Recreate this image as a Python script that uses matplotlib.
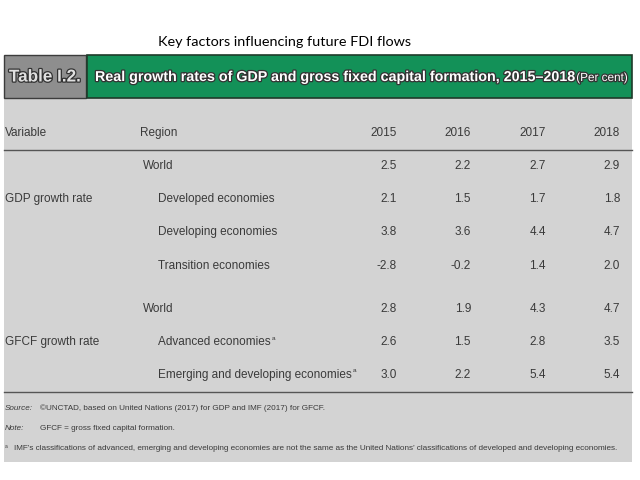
import matplotlib.pyplot as plt
from matplotlib.patches import Rectangle
import matplotlib.patheffects as pe

# table contents
years = ["2015", "2016", "2017", "2018"]
gdp_regions = ["World", "Developed economies", "Developing economies", "Transition economies"]
gdp_values = [
    [2.5, 2.2, 2.7, 2.9],
    [2.1, 1.5, 1.7, 1.8],
    [3.8, 3.6, 4.4, 4.7],
    [-2.8, -0.2, 1.4, 2.0],
]
gfcf_regions = ["World", "Advanced economies", "Emerging and developing economies"]
gfcf_values = [
    [2.8, 1.9, 4.3, 4.7],
    [2.6, 1.5, 2.8, 3.5],
    [3.0, 2.2, 5.4, 5.4],
]
source_txt = "\u00a9UNCTAD, based on United Nations (2017) for GDP and IMF (2017) for GFCF."
note_txt = "GFCF = gross fixed capital formation."
foot_txt = ("IMF\u2019s classifications of advanced, emerging and developing economies are not the same "
            "as the United Nations\u2019 classifications of developed and developing economies.")

FONT = ["Liberation Sans", "DejaVu Sans"]
TXT = "#3a3a3a"

fig = plt.figure(figsize=(6.4, 4.8), dpi=100)
ax = fig.add_axes([0, 0, 1, 1])
ax.set_xlim(0, 640)
ax.set_ylim(480, 0)
ax.axis("off")
renderer = fig.canvas.get_renderer()


def fit(t, width):
    # shrink/grow a text so it spans `width` pixels
    w = t.get_window_extent(renderer).width
    t.set_fontsize(t.get_fontsize() * width / w)
    return t.get_fontsize()


fig.text(285 / 640, 1 - 42 / 480, "Key factors influencing future FDI flows",
         ha="center", va="center", fontsize=10.4, family=["Lato", "DejaVu Sans"], color="black")

# panel + header band
ax.add_patch(Rectangle((4, 98), 628, 364, facecolor="#d3d3d3", edgecolor="none"))
ax.add_patch(Rectangle((4, 55), 82, 43, facecolor="#8e8e8e", edgecolor="#3c3c3c", lw=1))
ax.add_patch(Rectangle((87, 55), 545, 43, facecolor="#139158", edgecolor="#1f3b2a", lw=1.2))

shadow = [pe.withStroke(linewidth=1.8, foreground="#333333")]
t = ax.text(45, 77, "Table I.2.", ha="center", va="center", fontsize=14, fontweight="bold",
            color="#e0e0e0", family=FONT, path_effects=shadow)
fit(t, 72)
t = ax.text(95, 77, "Real growth rates of GDP and gross fixed capital formation, 2015\u20132018",
            ha="left", va="center", fontsize=12, fontweight="bold", color="white",
            family=FONT, path_effects=shadow)
fit(t, 478)
t = ax.text(628, 78, "(Per cent)", ha="right", va="center", fontsize=8, color="white",
            family=FONT, path_effects=shadow)
fit(t, 52)

fs = 8.5
col_right = [397, 471, 546, 620]
ax.text(5, 133, "Variable", ha="left", va="center", fontsize=fs, color=TXT, family=FONT)
ax.text(140, 133, "Region", ha="left", va="center", fontsize=fs, color=TXT, family=FONT)
for x, yr in zip(col_right, years):
    ax.text(x, 133, yr, ha="right", va="center", fontsize=fs, color=TXT, family=FONT)
ax.plot([4, 632], [150, 150], color="#555555", lw=1)


def block(regions, values, ys, label, label_y, sup=()):
    ax.text(5, label_y, label, ha="left", va="center", fontsize=fs, color=TXT, family=FONT)
    for i, (reg, row, y) in enumerate(zip(regions, values, ys)):
        t = ax.text(143 if i == 0 else 158, y, reg, ha="left", va="center",
                    fontsize=fs, color=TXT, family=FONT)
        if i in sup:
            bb = t.get_window_extent(renderer)
            ax.text(158 + bb.width + 1, y - 4, "a", ha="left", va="center",
                    fontsize=fs * 0.55, color=TXT, family=FONT)
        for x, v in zip(col_right, row):
            ax.text(x, y, f"{v:.1f}", ha="right", va="center", fontsize=fs, color=TXT, family=FONT)


block(gdp_regions, gdp_values, [166, 199, 232, 266], "GDP growth rate", 199)
block(gfcf_regions, gfcf_values, [309, 342, 375], "GFCF growth rate", 342, sup=(1, 2))
ax.plot([4, 632], [392, 392], color="#555555", lw=1)

t = ax.text(14, 449, foot_txt, ha="left", va="center", fontsize=7, color=TXT, family=FONT)
nfs = fit(t, 600)
ax.text(5, 446, "a", ha="left", va="center", fontsize=nfs * 0.6, color=TXT, family=FONT)
ax.text(5, 408, "Source:", ha="left", va="center", fontsize=nfs, style="italic", color=TXT, family=FONT)
ax.text(40, 408, source_txt, ha="left", va="center", fontsize=nfs, color=TXT, family=FONT)
ax.text(5, 429, "Note:", ha="left", va="center", fontsize=nfs, style="italic", color=TXT, family=FONT)
ax.text(40, 429, note_txt, ha="left", va="center", fontsize=nfs, color=TXT, family=FONT)

fig.savefig("out.png", dpi=100)
